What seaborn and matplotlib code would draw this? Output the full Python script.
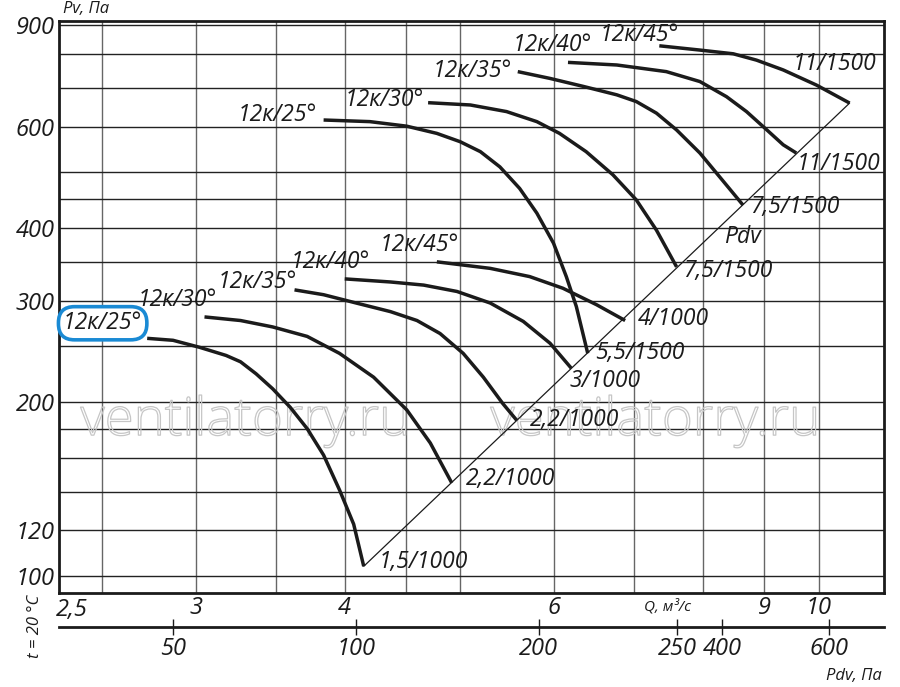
import numpy as np
import pandas as pd
import matplotlib
matplotlib.use("Agg")
import matplotlib.pyplot as plt
import seaborn as sns
from matplotlib import patheffects as pe

# ---------------- data ----------------
# lower group of curves (Q, m3/s ; Pv, Pa)
q_lo25 = [2.73, 2.87, 3.02, 3.18, 3.27, 3.37, 3.48, 3.60, 3.72, 3.84, 3.96, 4.07, 4.15]
p_lo25 = [258, 256, 249, 241, 235, 224, 211, 196, 180, 162, 141, 123, 104]
q_lo30 = [3.05, 3.27, 3.48, 3.72, 3.96, 4.23, 4.51, 4.72, 4.92]
p_lo30 = [281, 277, 270, 260, 243, 221, 194, 170, 145]
q_lo35 = [3.63, 3.84, 4.09, 4.37, 4.60, 4.81, 5.03, 5.23, 5.43, 5.58]
p_lo35 = [313, 307, 297, 287, 277, 263, 243, 221, 199, 186]
q_lo40 = [4.00, 4.37, 4.66, 4.97, 5.30, 5.65, 5.95, 6.20]
p_lo40 = [327, 323, 319, 311, 297, 276, 253, 229]
q_lo45 = [4.78, 5.30, 5.72, 6.10, 6.51, 6.88]
p_lo45 = [350, 341, 330, 315, 295, 277]
# upper group of curves
q_up25 = [3.84, 4.20, 4.51, 4.78, 5.00, 5.20, 5.40, 5.61, 5.80, 5.99, 6.14, 6.26, 6.40]
p_up25 = [616, 612, 601, 584, 565, 543, 511, 469, 425, 377, 330, 293, 243]
q_up30 = [4.70, 5.10, 5.47, 5.80, 6.06, 6.38, 6.72, 7.03, 7.31, 7.60]
p_up30 = [660, 654, 637, 612, 584, 543, 495, 448, 397, 343]
q_up35 = [5.59, 5.95, 6.35, 6.77, 7.03, 7.31, 7.60, 7.95, 8.26, 8.64]
p_up35 = [747, 727, 704, 681, 663, 633, 592, 540, 491, 439]
q_up40 = [6.16, 6.77, 7.45, 7.95, 8.37, 8.70, 9.05, 9.34, 9.58]
p_up40 = [775, 767, 747, 718, 676, 637, 592, 558, 540]
q_up45 = [7.35, 7.95, 8.48, 8.87, 9.34, 9.96, 10.62]
p_up45 = [828, 814, 802, 782, 752, 708, 659]
# dynamic pressure line
pdv_q = [4.15, 10.62]
pdv_p = [104, 659]

curve_ids = ["lo25", "lo30", "lo35", "lo40", "lo45", "up25", "up30", "up35", "up40", "up45"]
curve_q = [q_lo25, q_lo30, q_lo35, q_lo40, q_lo45, q_up25, q_up30, q_up35, q_up40, q_up45]
curve_p = [p_lo25, p_lo30, p_lo35, p_lo40, p_lo45, p_up25, p_up30, p_up35, p_up40, p_up45]

# labels: text, Q, P (left edge / vertical centre)
blade_labels = ["12к/25°", "12к/30°", "12к/35°", "12к/40°", "12к/45°",
                "12к/25°", "12к/30°", "12к/35°", "12к/40°", "12к/45°"]
blade_q = [2.32, 2.68, 3.13, 3.60, 4.28, 3.25, 4.00, 4.74, 5.53, 6.55]
blade_p = [274, 301, 323, 350, 374, 628, 667, 749, 831, 865]
motor_labels = ["1,5/1000", "2,2/1000", "2,2/1000", "3/1000", "5,5/1500", "4/1000",
                "7,5/1500", "Pdv", "7,5/1500", "11/1500", "11/1500"]
motor_q = [4.27, 5.06, 5.72, 6.18, 6.49, 7.05, 7.69, 8.33, 8.76, 9.59, 9.52]
motor_p = [106, 147, 186, 217.6, 243, 279, 337, 386, 435, 517, 770]

# axes ticks / grid
y_ticks = [100, 120, 200, 300, 400, 600, 900]
y_grid = [140, 160, 180, 250, 350, 450, 500, 700, 800]
x_ticks = [3, 4, 6, 9, 10]
x_tick_labels = ["3", "4", "6", "9", "10"]
x_grid = [2.5, 3.5, 4.5, 5, 7, 8]
pdv_ticks = [50, 100, 200, 338, 400, 600]
pdv_tick_labels = ["50", "100", "200", "250", "400", "600"]

# ---------------- build frame ----------------
rows = []
for cid, qs, ps in zip(curve_ids, curve_q, curve_p):
    for i, (q, p) in enumerate(zip(qs, ps)):
        rows.append({"curve": cid, "order": i, "Q": q, "P": p})
df = pd.DataFrame(rows)

sns.set_theme(style="white")
FONT = ["Open Sans", "DejaVu Sans"]
plt.rcParams["font.family"] = FONT
plt.rcParams["font.style"] = "italic"

W, H = 900, 687
INK = "#1b1b1b"
fig = plt.figure(figsize=(9, 6.87), dpi=100)
ax = fig.add_axes([59 / W, 94 / H, 825 / W, 572 / H])
ax.set_xscale("log")
ax.set_yscale("log")

sns.lineplot(data=df, x="Q", y="P", units="curve", estimator=None, sort=False,
             color=INK, linewidth=2.5, ax=ax, legend=False,
             solid_joinstyle="round", solid_capstyle="butt")
ax.plot(pdv_q, pdv_p, color=INK, linewidth=0.9)

ax.set_xlim(2.302, 11.35)
ax.set_ylim(93.5, 914)

ax.set_yticks(y_ticks)
ax.set_yticklabels([str(v) for v in y_ticks])
ax.set_yticks(y_grid, minor=True)
ax.yaxis.set_minor_formatter(matplotlib.ticker.NullFormatter())
ax.set_xticks(x_ticks)
ax.set_xticklabels(x_tick_labels)
ax.set_xticks(x_grid, minor=True)
ax.xaxis.set_minor_formatter(matplotlib.ticker.NullFormatter())
ax.tick_params(which="both", length=0)
ax.tick_params(axis="y", labelsize=17, pad=3, labelcolor=INK)
ax.tick_params(axis="x", labelsize=17, pad=2, labelcolor=INK)
ax.grid(which="both", axis="y", color="#222222", linewidth=1.0)
ax.grid(which="both", axis="x", color="#666666", linewidth=1.0)
ax.set_axisbelow(True)
ax.set_xlabel("")
ax.set_ylabel("")
for s in ax.spines.values():
    s.set_color(INK)
    s.set_linewidth(2.0)

# "2,5" label sits at the left edge
ax.text(2.36, -0.008, "2,5", transform=ax.get_xaxis_transform(), ha="center", va="top",
        fontsize=17, color=INK)

# curve labels
for i, (t, q, p) in enumerate(zip(blade_labels, blade_q, blade_p)):
    kw = {}
    if i == 0:
        kw["bbox"] = dict(boxstyle="round,pad=0.2,rounding_size=0.7", fc="white",
                          ec="#1a8ad4", lw=2.6)
    ax.text(q, p, t, ha="left", va="center", fontsize=16.5, color=INK, **kw)
for t, q, p in zip(motor_labels, motor_q, motor_p):
    ax.text(q, p, t, ha="left", va="center", fontsize=16.5, color=INK)

# watermarks
for xf in (0.2255, 0.7224):
    ax.text(xf, 0.30, "ventilatorry.ru", transform=ax.transAxes, ha="center", va="center",
            fontsize=38, style="normal", fontweight="light", color="none",
            path_effects=[pe.Stroke(linewidth=0.9, foreground="#c6c6c6")], zorder=1)

# secondary Pdv axis
ax2 = fig.add_axes([59 / W, (H - 627) / H, 825 / W, 0.0001])
ax2.set_facecolor("none")
ax2.set_xscale("log")
ax2.set_xlim(32.5, 739)
for k in ("left", "right", "top"):
    ax2.spines[k].set_visible(False)
ax2.spines["bottom"].set_linewidth(2.0)
ax2.spines["bottom"].set_color(INK)
ax2.set_yticks([])
ax2.set_xticks(pdv_ticks)
ax2.set_xticklabels(pdv_tick_labels)
ax2.xaxis.set_minor_locator(matplotlib.ticker.NullLocator())
ax2.tick_params(axis="x", direction="inout", length=11, width=1.0, color=INK,
                labelsize=17, pad=2, bottom=True, labelcolor=INK)

# axis titles
fig.text(63 / W, 1 - 9 / H, "Pv, Па", fontsize=12, ha="left", va="center", color=INK)
fig.text(668 / W, 1 - 607 / H, "Q, м³/с", fontsize=11, ha="center", va="center", color=INK)
fig.text(882 / W, 1 - 676 / H, "Pdv, Па", fontsize=12, ha="right", va="center", color=INK)
fig.text(35 / W, 1 - 626 / H, "t = 20 °C", fontsize=12, ha="center", va="center",
         rotation=90, color=INK)

fig.savefig("out.png", dpi=100, facecolor="white")
